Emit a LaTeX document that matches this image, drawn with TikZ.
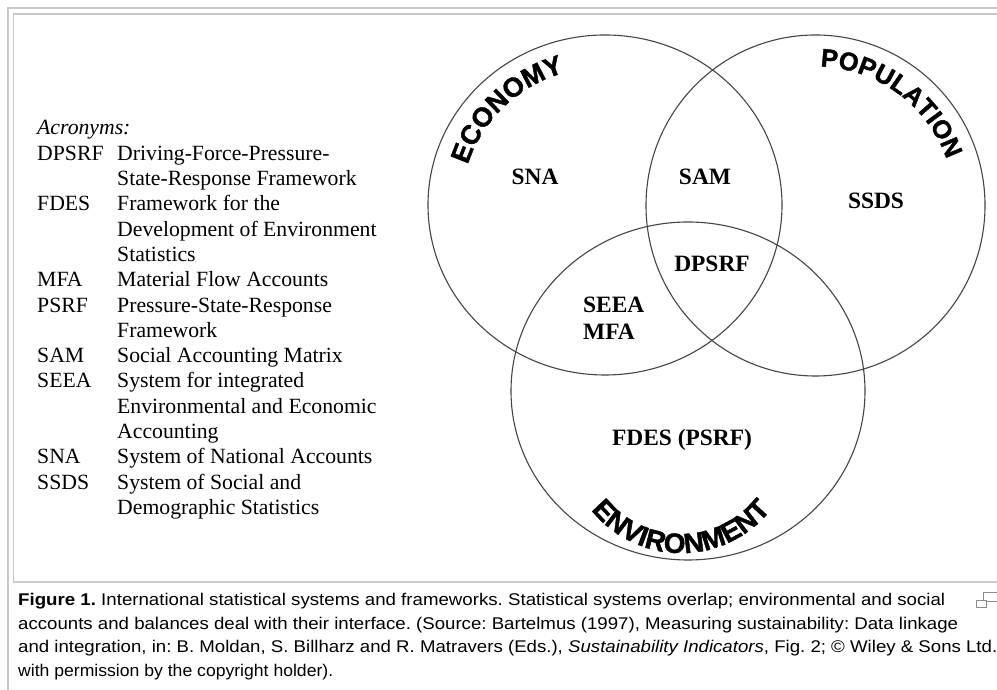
\documentclass[tikz,border=0pt]{standalone}
\usepackage{fontspec}
\usepackage{graphicx}
\setmainfont{Liberation Serif}
\newfontfamily\capfont{Liberation Sans}
\newfontfamily\arcfont{Liberation Sans}[BoldFeatures={FakeBold=1.6}]
\usetikzlibrary{decorations.text,shapes.geometric}
\definecolor{framegray}{HTML}{C8C8C8}
\definecolor{ringgray}{HTML}{454545}
\definecolor{icongray}{HTML}{8C8C8C}
% caption line stretched to a given width
\newcommand{\capfit}[2]{\resizebox{#1}{\height}{#2}}
\begin{document}
\frenchspacing
\begin{tikzpicture}[x=1bp,y=1bp,
  ring/.style={ellipse, draw=ringgray, line width=1.1bp, inner sep=0pt},
  zone/.style={font=\bfseries\fontsize{23.5}{24}\selectfont, inner sep=0pt},
  abbr/.style={anchor=base west, inner sep=0pt, font=\fontsize{21.8}{25}\selectfont},
  capline/.style={anchor=base west, inner sep=0pt, font=\capfont\fontsize{17}{20}\selectfont},
  arclabel/.style 2 args={decorate, decoration={text along path, text align=center,
    text={|\arcfont\bfseries\fontsize{#2}{#2}\selectfont|#1}}}
]
\fill[white] (0,0) rectangle (997,690);
\useasboundingbox (0,0) rectangle (997,690);

% frames
\draw[framegray, line width=2.5bp] (8,0) -- (8,682) -- (997,682);
\draw[framegray, line width=1.2bp] (997,676) -- (13.5,676) -- (13.5,108) -- (997,108);

% the three overlapping systems
\node[ring, minimum width=354bp, minimum height=340bp] (econ) at (605,485) {};
\node[ring, minimum width=339bp, minimum height=341bp] (popu) at (815.5,484.5) {};
\node[ring, minimum width=354bp, minimum height=338bp] (envi) at (688,299) {};

% curved circle titles
\path[arclabel={ECONOMY}{27}] (605,485) ++(175:143.5 and 138)
  arc[start angle=175, end angle=95, x radius=143.5, y radius=138];
\path[arclabel={POPULATION}{25.5}] (815.5,484.5) ++(98.7:139)
  arc[start angle=98.7, end angle=8.7, radius=139];
\path[arclabel={ENVIRONMENT}{28}] (681,252) ++(200:115)
  arc[start angle=200, end angle=340, radius=115];

% frameworks placed in the regions
\node[zone] (sna) at (535,513) {SNA};
\node[zone] (sam) at (705,513) {SAM};
\node[zone] (ssds) at (876,489) {SSDS};
\node[zone] (dpsrf) at (712,426) {DPSRF};
\node[zone, anchor=west] (seea) at (583,385) {SEEA};
\node[zone, anchor=west] (mfa) at (583,358) {MFA};
\node[zone] (fdes) at (682,250) {FDES (PSRF)};

% acronym list
\node[abbr, font=\itshape\fontsize{21.8}{25}\selectfont] (acr) at (37,555) {Acronyms:};
\foreach \k/\t in {1/DPSRF,3/FDES,6/MFA,7/PSRF,9/SAM,10/SEEA,13/SNA,14/SSDS}
  \node[abbr] (ab\k) at (37,{555-25.3*\k}) {\t};
\foreach \k/\t in {1/Driving-Force-Pressure-,2/State-Response Framework,
    3/Framework for the,4/Development of Environment,5/Statistics,
    6/Material Flow Accounts,7/Pressure-State-Response,8/Framework,
    9/Social Accounting Matrix,10/System for integrated,
    11/Environmental and Economic,12/Accounting,
    13/System of National Accounts,14/System of Social and,
    15/Demographic Statistics}
  \node[abbr] (de\k) at (117,{555-25.3*\k}) {\t};

% caption
\node[capline] (cap1) at (18,84) {\capfit{927bp}{{\bfseries Figure 1.} International statistical systems and frameworks. Statistical systems overlap; environmental and social}};
\node[capline] (cap2) at (18,60) {\capfit{940bp}{accounts and balances deal with their interface. (Source: Bartelmus (1997), Measuring sustainability: Data linkage}};
\node[capline] (cap3) at (18,37) {\capfit{979bp}{and integration, in: B. Moldan, S. Billharz and R. Matravers (Eds.), \textit{Sustainability Indicators}, Fig. 2; © Wiley \& Sons Ltd.}};
\node[capline] (cap4) at (18,13) {\capfit{315bp}{with permission by the copyright holder).}};

% enlarge icon
\draw[icongray, line width=1bp] (983.5,97) rectangle (997,88);
\filldraw[fill=white, draw=icongray, line width=1bp] (976.5,89) rectangle (986,82);
\end{tikzpicture}
\end{document}
